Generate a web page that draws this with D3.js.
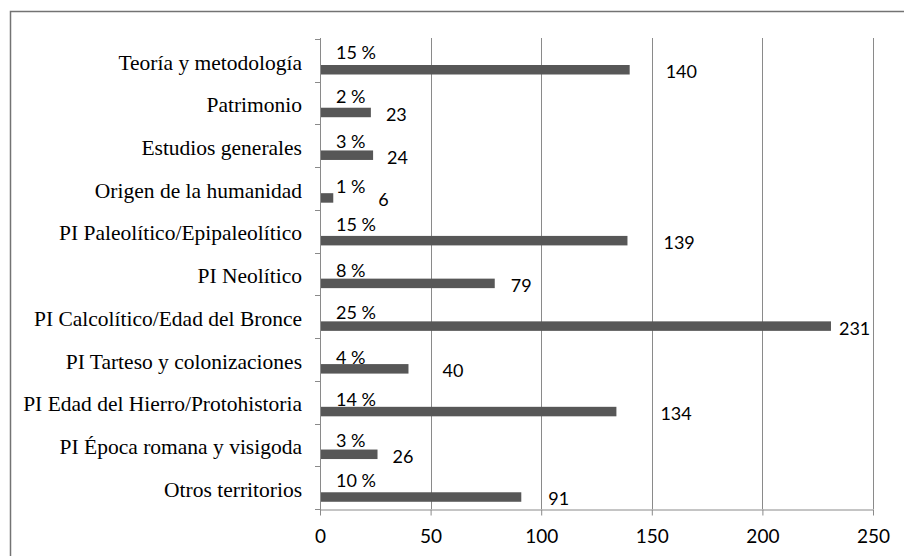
<!DOCTYPE html>
<html>
<head>
<meta charset="utf-8">
<script src="https://cdn.jsdelivr.net/npm/d3@7/dist/d3.min.js"></script>
<style>
  html, body { margin: 0; padding: 0; background: #fff; }
  svg { display: block; }
</style>
</head>
<body>
<script>
// ---- data ----
const categories = [
  "Teoría y metodología",
  "Patrimonio",
  "Estudios generales",
  "Origen de la humanidad",
  "PI Paleolítico/Epipaleolítico",
  "PI Neolítico",
  "PI Calcolítico/Edad del Bronce",
  "PI Tarteso y colonizaciones",
  "PI Edad del Hierro/Protohistoria",
  "PI Época romana y visigoda",
  "Otros territorios"
];
const counts = [140, 23, 24, 6, 139, 79, 231, 40, 134, 26, 91];
const percents = [15, 2, 3, 1, 15, 8, 25, 4, 14, 3, 10];
const xTicks = [0, 50, 100, 150, 200, 250];

// ---- layout (label placement, px) ----
const countLabelGap = [36, 15, 14, 45, 36, 16, 8, 34, 44, 15, 27];
const pctLabelDy = [13.5, 15, 17, 19, 15, 17.5, 17.5, 19, 19, 16.5, 14];

const W = 904, H = 556;
const svg = d3.select("body").append("svg").attr("width", W).attr("height", H);

svg.append("rect").attr("width", W).attr("height", H).attr("fill", "#fff");
// outer frame
svg.append("rect")
  .attr("x", 10.5).attr("y", 11.5)
  .attr("width", 1000).attr("height", 1000)
  .attr("fill", "none").attr("stroke", "#737373").attr("stroke-width", 1.5);

const x = d3.scaleLinear().domain([0, 250]).range([320, 873]);
const y = d3.scaleBand().domain(categories).range([39, 509]).padding(0);

const gridColor = "#8a8a8a";
const numFont = "Lato, 'Open Sans', sans-serif";

// vertical gridlines
svg.append("g").selectAll("line")
  .data(xTicks.filter(t => t > 0))
  .join("line")
  .attr("x1", d => Math.round(x(d)) + 0.5).attr("x2", d => Math.round(x(d)) + 0.5)
  .attr("y1", 38).attr("y2", 509)
  .attr("stroke", gridColor).attr("stroke-width", 1);

// bars
svg.append("g").selectAll("rect")
  .data(categories)
  .join("rect")
  .attr("x", x(0))
  .attr("y", (d) => y(d) + 26)
  .attr("width", (d, i) => x(counts[i]) - x(0))
  .attr("height", 9.5)
  .attr("fill", "#575757");

// x axis
const xAxis = svg.append("g")
  .attr("transform", "translate(0,509.5)")
  .call(d3.axisBottom(x).tickValues(xTicks).tickSize(6).tickSizeOuter(0));
xAxis.select(".domain").attr("stroke", gridColor);
xAxis.selectAll(".tick line").attr("stroke", gridColor);
xAxis.selectAll(".tick text")
  .attr("y", 33).attr("dy", null)
  .attr("fill", "#000")
  .style("font-family", numFont)
  .style("font-size", "19px");

// y axis line + category boundary ticks
const yb = categories.map(c => y(c)).concat([y.range()[1]]);
svg.append("line")
  .attr("x1", x(0) + 0.5).attr("x2", x(0) + 0.5)
  .attr("y1", 38).attr("y2", 510)
  .attr("stroke", gridColor);
svg.append("g").selectAll("line")
  .data(yb)
  .join("line")
  .attr("x1", x(0) - 5).attr("x2", x(0))
  .attr("y1", d => Math.round(d) + 0.5).attr("y2", d => Math.round(d) + 0.5)
  .attr("stroke", gridColor);

// category labels
svg.append("g").selectAll("text")
  .data(categories)
  .join("text")
  .attr("x", 302)
  .attr("y", d => y(d) + 30.5)
  .attr("text-anchor", "end")
  .attr("fill", "#000")
  .style("font-family", "'Liberation Serif', 'Times New Roman', serif")
  .style("font-size", "21.5px")
  .text(d => d);

// percent labels
svg.append("g").selectAll("text")
  .data(categories)
  .join("text")
  .attr("x", x(0) + 16)
  .attr("y", (d, i) => y(d) + pctLabelDy[i] + 6.5)
  .attr("fill", "#000")
  .style("font-family", numFont)
  .style("font-size", "18px")
  .text((d, i) => percents[i] + " %");

// count labels
svg.append("g").selectAll("text")
  .data(categories)
  .join("text")
  .attr("x", (d, i) => x(counts[i]) + countLabelGap[i])
  .attr("y", d => y(d) + 32.7 + 6.5)
  .attr("fill", "#000")
  .style("font-family", numFont)
  .style("font-size", "18px")
  .text((d, i) => counts[i]);
</script>
</body>
</html>
